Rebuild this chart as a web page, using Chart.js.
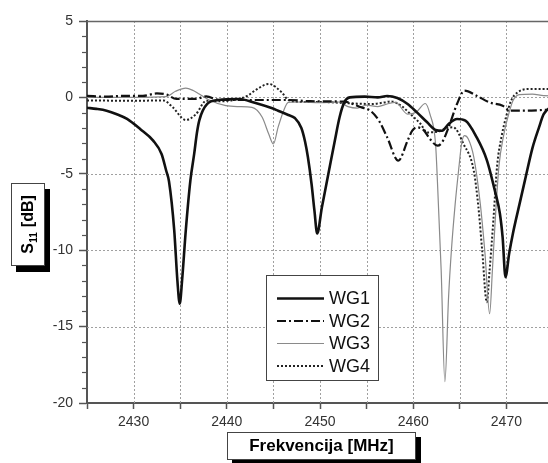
<!DOCTYPE html>
<html><head><meta charset="utf-8">
<script src="https://cdn.jsdelivr.net/npm/chart.js@4.4.1/dist/chart.umd.min.js"></script>
<style>
html,body{margin:0;padding:0;overflow:hidden;background:#fff;width:548px;height:463px}
#wrap{position:absolute;left:0;top:0;width:558px;height:463px}
</style></head>
<body><div id="wrap"><canvas id="c" width="558" height="463"></canvas></div>
<script>
// ---------- data ----------
const seriesNames = ['WG1', 'WG2', 'WG3', 'WG4'];
const xTitle = 'Frekvencija [MHz]';
const yTitleMain = 'S', yTitleSub = '11', yTitleUnit = ' [dB]';
const xTickLabels = [2430, 2440, 2450, 2460, 2470];
const yTickLabels = [5, 0, -5, -10, -15, -20];

const wg1Freq = [2425, 2426, 2427.1, 2428.2, 2429.3, 2430.7, 2432.1, 2433.0, 2433.5, 2433.8, 2434.36, 2434.7, 2434.95, 2435.2, 2435.6, 2436.1, 2436.5, 2436.8, 2437.05, 2437.9, 2439.1, 2441.3, 2443, 2444.8, 2445.5, 2446.6, 2447.3, 2448.0, 2448.4, 2448.7, 2449.1, 2449.4, 2449.7, 2450.2, 2450.9, 2451.6, 2452.1, 2452.6, 2453.2, 2454.8, 2456.2, 2457.2, 2458.3, 2459.4, 2460.4, 2461.5, 2462.4, 2463.1, 2463.8, 2464.7, 2465.6, 2466.8, 2467.9, 2468.8, 2469.3, 2469.6, 2469.9, 2470.3, 2470.7, 2471.4, 2472.0, 2472.8, 2473.5, 2474.0, 2475];
const wg1Db   = [-0.68, -0.75, -0.87, -1.1, -1.41, -2.07, -2.83, -3.7, -4.8, -5.5, -8.7, -12, -13.5, -12, -8.7, -5.4, -3.7, -2.3, -1.5, -0.43, -0.17, -0.1, -0.35, -0.7, -0.87, -1.15, -1.35, -2.0, -2.9, -3.9, -5.7, -7.4, -8.9, -7.2, -5.0, -2.8, -1.3, -0.33, 0, 0.05, 0.0, 0.09, -0.04, -0.43, -0.98, -1.63, -2.13, -2.18, -1.74, -1.41, -1.52, -2.6, -4.1, -6.2, -7.6, -9.2, -11.76, -10.2, -8.9, -7.0, -5.4, -3.3, -1.96, -1.1, -0.5];

const wg2Freq = [2425, 2427, 2429, 2431, 2432.5, 2433.5, 2434.6, 2436.7, 2437.8, 2439.2, 2441.3, 2446.6, 2449, 2452.6, 2454.4, 2455.4, 2456.3, 2457.2, 2458.4, 2459.4, 2459.9, 2460.4, 2461.1, 2461.8, 2462.6, 2463.1, 2463.8, 2464.7, 2465.5, 2466.8, 2468.2, 2469.6, 2470.4, 2472.1, 2474, 2475];
const wg2Db   = [0.1, 0.05, 0.1, 0.1, 0.26, 0.2, -0.1, -0.1, 0.07, -0.17, -0.17, -0.17, -0.25, -0.28, -0.65, -0.87, -1.5, -2.6, -4.14, -2.83, -2.18, -1.96, -2.13, -2.72, -3.16, -2.94, -1.96, -0.43, 0.44, 0.11, -0.33, -0.54, -0.87, -0.87, -0.82, -0.8];

const wg3Freq = [2425, 2430, 2433.5, 2434.5, 2435.6, 2436.4, 2437.05, 2438.1, 2439.9, 2441.3, 2442.7, 2443.8, 2444.5, 2445.0, 2445.5, 2446.1, 2446.6, 2448, 2450, 2452, 2453, 2454, 2455, 2456.2, 2457.2, 2458.1, 2459.4, 2460.3, 2461.3, 2461.8, 2462.4, 2462.6, 2463.0, 2463.4, 2463.8, 2464.1, 2464.5, 2464.9, 2465.2, 2465.5, 2465.9, 2466.5, 2467.2, 2467.7, 2468.2, 2468.5, 2468.8, 2469.2, 2469.7, 2470.2, 2470.7, 2471.4, 2472.8, 2474, 2475];
const wg3Db   = [0, 0, 0.05, 0.4, 0.61, 0.45, 0.22, -0.17, -0.54, -0.6, -0.65, -1.3, -2.4, -3.05, -1.96, -0.87, -0.33, -0.3, -0.35, -0.3, -0.6, -0.7, -0.5, -0.6, -0.43, -0.33, -1.09, -0.98, -0.4, -1.1, -3.05, -5.5, -11.3, -18.6, -13, -10, -7, -4.6, -3.0, -2.5, -2.7, -3.9, -6.97, -10.2, -14.16, -11.3, -8.06, -4.5, -2.5, -1.2, -0.22, 0.18, 0.22, 0.11, 0.1];

const wg4Freq = [2425, 2430, 2433.2, 2434.2, 2435.6, 2436.7, 2437.8, 2439.2, 2441.3, 2442.2, 2443.0, 2444.5, 2445.9, 2446.6, 2448, 2450, 2453.3, 2455.5, 2456.9, 2457.6, 2458.7, 2459.7, 2460.8, 2461.5, 2462.9, 2463.6, 2464.3, 2465.4, 2466.5, 2467.0, 2467.4, 2467.9, 2468.2, 2468.6, 2469.0, 2469.5, 2470.0, 2470.5, 2471.2, 2472.5, 2474, 2475];
const wg4Db   = [-0.2, -0.22, -0.2, -0.65, -1.48, -1.09, -0.22, -0.26, -0.1, 0.1, 0.44, 0.88, 0.33, -0.17, -0.3, -0.3, -0.39, -0.43, -0.33, -0.26, -0.54, -1.09, -1.74, -2.29, -2.2, -2.0, -1.96, -3.05, -4.8, -7.2, -10, -13.4, -11.3, -8.06, -4.5, -2.5, -1.2, -0.22, 0.33, 0.55, 0.55, 0.55];

// ---------- styles ----------
const seriesStyles = [
  { color: '#111', width: 2.6, dash: [] },
  { color: '#111', width: 2.2, dash: [9, 3, 2, 3] },
  { color: '#8a8a8a', width: 1.2, dash: [] },
  { color: '#222', width: 2, dash: [2, 2] }
];
const seriesFreqs = [wg1Freq, wg2Freq, wg3Freq, wg4Freq];
const seriesDbs = [wg1Db, wg2Db, wg3Db, wg4Db];

const datasets = seriesNames.map((name, i) => ({
  label: name,
  data: seriesFreqs[i].map((f, k) => ({ x: f, y: seriesDbs[i][k] })),
  borderColor: seriesStyles[i].color,
  borderWidth: seriesStyles[i].width,
  borderDash: seriesStyles[i].dash,
  pointRadius: 0,
  fill: false,
  cubicInterpolationMode: 'monotone'
}));

const FONT = 'Liberation Sans, Arial, Helvetica, sans-serif';
const GRID = '#a0a0a0';

const framePlugin = {
  id: 'frame',
  beforeDatasetsDraw(chart) {
    // dotted grid lines on every 5 units (drawn from the scales' own tick positions)
    const { ctx, chartArea: a, scales: { x, y } } = chart;
    ctx.save();
    ctx.strokeStyle = GRID; ctx.lineWidth = 1; ctx.setLineDash([2, 2]);
    x.ticks.forEach(t => {
      if (t.value <= x.min || t.value >= x.max) return;
      const px = Math.round(x.getPixelForValue(t.value)) + 0.5;
      ctx.beginPath(); ctx.moveTo(px, a.top); ctx.lineTo(px, a.bottom); ctx.stroke();
    });
    y.ticks.forEach(t => {
      if (t.value <= y.min || t.value >= y.max) return;
      const py = Math.round(y.getPixelForValue(t.value)) + 0.5;
      ctx.beginPath(); ctx.moveTo(a.left, py); ctx.lineTo(a.right, py); ctx.stroke();
    });
    ctx.restore();
  },
  afterDraw(chart) {
    const { ctx, chartArea: a, scales: { y } } = chart;
    ctx.save();
    // top frame line
    ctx.strokeStyle = '#666'; ctx.lineWidth = 1.5;
    ctx.beginPath(); ctx.moveTo(a.left, a.top + 0.5); ctx.lineTo(a.right, a.top + 0.5); ctx.stroke();
    // minor y ticks
    ctx.strokeStyle = '#555'; ctx.lineWidth = 1.2;
    for (let v = y.min; v <= y.max; v++) {
      if (v % 5 === 0) continue;
      const py = Math.round(y.getPixelForValue(v)) + 0.5;
      ctx.beginPath(); ctx.moveTo(a.left - 5, py); ctx.lineTo(a.left, py); ctx.stroke();
    }
    // y title box
    ctx.fillStyle = '#000'; ctx.fillRect(16, 189, 34, 83);
    ctx.fillStyle = '#fff'; ctx.fillRect(11, 183, 34, 83);
    ctx.strokeStyle = '#444'; ctx.lineWidth = 1; ctx.strokeRect(11.5, 183.5, 33, 82);
    ctx.save();
    ctx.translate(29, 224.5); ctx.rotate(-Math.PI / 2);
    ctx.fillStyle = '#000'; ctx.textBaseline = 'middle';
    const fMain = 'bold 16px ' + FONT, fSub = 'bold 10px ' + FONT;
    ctx.font = fMain; const w1 = ctx.measureText(yTitleMain).width, w3 = ctx.measureText(yTitleUnit).width;
    ctx.font = fSub; const w2 = ctx.measureText(yTitleSub).width + 1;
    let sx = -(w1 + w2 + w3) / 2;
    ctx.textAlign = 'left';
    ctx.font = fMain; ctx.fillText(yTitleMain, sx, 0);
    ctx.font = fSub; ctx.fillText(yTitleSub, sx + w1 + 0.5, 5);
    ctx.font = fMain; ctx.fillText(yTitleUnit, sx + w1 + w2, 0);
    ctx.restore();
    // x title box
    ctx.fillStyle = '#000'; ctx.fillRect(232, 437, 189, 28);
    ctx.fillStyle = '#fff'; ctx.fillRect(227, 432, 189, 28);
    ctx.strokeStyle = '#444'; ctx.lineWidth = 1; ctx.strokeRect(227.5, 432.5, 188, 27);
    ctx.fillStyle = '#000'; ctx.font = 'bold 17px ' + FONT;
    ctx.textAlign = 'center'; ctx.textBaseline = 'middle';
    ctx.fillText(xTitle, 321.5, 446.5);
    // legend
    ctx.fillStyle = '#fff'; ctx.fillRect(266, 275, 112, 105);
    ctx.strokeStyle = '#444'; ctx.lineWidth = 1; ctx.strokeRect(266.5, 275.5, 112, 105);
    chart.data.datasets.forEach((ds, i) => {
      const cy = 298.5 + i * 22.5;
      ctx.strokeStyle = ds.borderColor; ctx.lineWidth = ds.borderWidth;
      ctx.setLineDash(ds.borderDash || []);
      ctx.beginPath(); ctx.moveTo(277, cy); ctx.lineTo(324, cy); ctx.stroke();
      ctx.setLineDash([]);
      ctx.fillStyle = '#111'; ctx.font = '18px ' + FONT;
      ctx.textAlign = 'left'; ctx.textBaseline = 'middle';
      ctx.fillText(ds.label, 329, cy + 1);
    });
    ctx.restore();
  }
};

new Chart(document.getElementById('c'), {
  type: 'line',
  data: { datasets },
  options: {
    responsive: false,
    animation: false,
    devicePixelRatio: 1,
    layout: { padding: { top: 21, left: 0, right: 1, bottom: 0 } },
    plugins: { legend: { display: false }, tooltip: { enabled: false } },
    scales: {
      x: {
        type: 'linear', min: 2425, max: 2475,
        afterFit: s => { s.height = 60; },
        ticks: {
          stepSize: 5, autoSkip: false, maxRotation: 0, padding: 5,
          color: '#333', font: { family: FONT, size: 14 },
          callback: v => xTickLabels.includes(v) ? String(v) : ''
        },
        grid: {
          drawOnChartArea: false,
          tickLength: 6, tickColor: '#555', tickWidth: 1.5
        },
        border: { display: true, color: '#555', width: 2 }
      },
      y: {
        type: 'linear', min: -20, max: 5,
        afterFit: s => { s.width = 87; },
        ticks: {
          stepSize: 5, padding: 6,
          color: '#333', font: { family: FONT, size: 14 },
          callback: v => yTickLabels.includes(v) ? String(v) : ''
        },
        grid: {
          drawOnChartArea: false,
          tickLength: 8, tickColor: '#555', tickWidth: 1.5
        },
        border: { display: true, color: '#555', width: 2 }
      }
    }
  },
  plugins: [framePlugin]
});
</script>
</body></html>
